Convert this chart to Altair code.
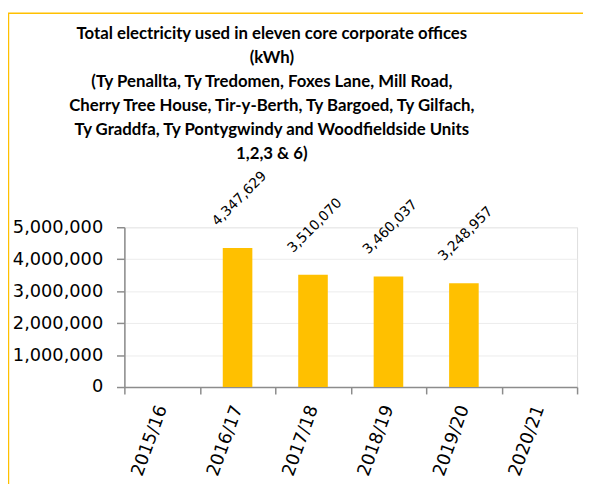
import altair as alt
import pandas as pd

years = ["2015/16", "2016/17", "2017/18", "2018/19", "2019/20", "2020/21"]
kwh = [None, 4347629, 3510070, 3460037, 3248957, None]
y_ticks = [0, 1000000, 2000000, 3000000, 4000000, 5000000]
title_lines = [
    "Total electricity used in eleven core corporate offices",
    "(kWh)",
    "(Ty Penallta, Ty Tredomen, Foxes Lane, Mill Road,",
    "Cherry Tree House, Tir-y-Berth, Ty Bargoed, Ty Gilfach,",
    "Ty Graddfa, Ty Pontygwindy and Woodfieldside Units",
    "1,2,3 & 6)",
]

df = pd.DataFrame({"year": years, "kwh": kwh})
frame_df = pd.DataFrame({"a": [0]})

GOLD = "#FFC000"
AXIS_GREY = "#8c8c8c"

x_enc = alt.X(
    "year:N",
    sort=years,
    scale=alt.Scale(domain=years, paddingInner=0, paddingOuter=0),
    axis=alt.Axis(
        title=None,
        labelAngle=290,
        labelAlign="right",
        labelBaseline="middle",
        labelFont="DejaVu Sans",
        labelFontSize=18,
        labelColor="black",
        labelPadding=12,
        labelOverlap=False,
        tickBand="extent",
        tickSize=7,
        tickColor=AXIS_GREY,
        tickWidth=1.5,
        domainColor=AXIS_GREY,
        domainWidth=1.5,
        grid=False,
    ),
)
y_enc = alt.Y(
    "kwh:Q",
    scale=alt.Scale(domain=[0, 5000000], nice=False, zero=True),
    axis=alt.Axis(
        title=None,
        values=y_ticks,
        tickCount=12,
        format=",d",
        labelFont="DejaVu Sans",
        labelFontSize=18,
        labelColor="black",
        labelPadding=14,
        labelOverlap=False,
        labelFlush=False,
        tickSize=8,
        tickColor=AXIS_GREY,
        tickWidth=1.5,
        domainColor=AXIS_GREY,
        domainWidth=1.5,
        grid=True,
        gridColor="#ececec",
        gridWidth=1,
    ),
)

bars = alt.Chart(df).mark_bar(size=30, color=GOLD).encode(x=x_enc, y=y_enc)

labels = alt.Chart(df).mark_text(
    angle=315,
    align="center",
    baseline="middle",
    dx=36.7,
    dy=-33.9,
    font="DejaVu Sans",
    fontSize=14,
    color="black",
).encode(x=x_enc, y=y_enc, text=alt.Text("kwh:Q", format=",d"))

frame_v = alt.Chart(frame_df).mark_rule(color=GOLD, strokeWidth=1.5).encode(
    x=alt.value(-117.5), y=alt.value(-217), y2=alt.value(400)
)
frame_h = alt.Chart(frame_df).mark_rule(color=GOLD, strokeWidth=1.5).encode(
    x=alt.value(-118), x2=alt.value(600), y=alt.value(-217)
)

chart = (
    alt.layer(bars, labels, frame_v, frame_h)
    .properties(
        width=459,
        height=162,
        autosize=alt.AutoSizeParams(type="none"),
        padding={"left": 118, "top": 219, "right": 6, "bottom": 95},
        title=alt.TitleParams(
            text=title_lines,
            font="Lato",
            fontSize=17,
            fontWeight="bold",
            color="black",
            lineHeight=24.5,
            anchor="middle",
            dx=-80,
            offset=-153,
        ),
    )
    .configure_view(stroke=None)
    .configure(background="white")
)

chart.save("out.html", embed_options={"renderer": "svg", "actions": False})
